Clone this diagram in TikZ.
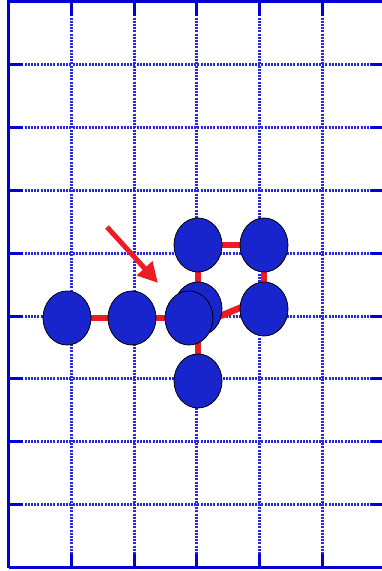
\documentclass[tikz,border=0pt]{standalone}
\usetikzlibrary{shapes.geometric,arrows.meta}
\definecolor{gridblue}{RGB}{0,0,215}
\definecolor{dotblue}{RGB}{40,40,225}
\definecolor{ballblue}{RGB}{24,36,204}
\definecolor{linkred}{RGB}{237,28,36}
\begin{document}
\begin{tikzpicture}[x=1pt,y=-1pt,
  gridline/.style={dotblue,line width=3pt,dash pattern=on 2pt off 1.2pt},
  border/.style={gridblue,line width=3pt},
  ball/.style={ellipse,draw=black,line width=0.8pt,fill=ballblue,minimum width=48pt,minimum height=54pt,inner sep=0pt},
  link/.style={linkred,line width=6.5pt},
  pointer/.style={linkred,line width=5pt,-{Triangle[length=20pt,width=20pt]}}]
\useasboundingbox (0,0) rectangle (382,571);
\fill[white] (0,0) rectangle (382,571);
% grid
\foreach \x in {71.3,134.1,196.9,259.7,322.5}
  \draw[gridline] (\x,1.5) -- (\x,567.6);
\foreach \y in {64.4,127.3,190.2,253.1,316,378.9,441.8,504.7}
  \draw[gridline] (8.5,\y) -- (385.3,\y);
% box
\draw[border] (8.5,567.6) -- (8.5,1.5) -- (386,1.5);
\draw[border] (8.5,567.6) -- (386,567.6);
% ticks
\foreach \x in {71.3,134.1,196.9,259.7,322.5}{
  \draw[border] (\x,1.5) -- (\x,15.5);
  \draw[border] (\x,567.6) -- (\x,553.6);}
\foreach \y in {64.4,127.3,190.2,253.1,316,378.9,441.8,504.7}{
  \draw[border] (8.5,\y) -- (22.5,\y);
  \draw[border] (385.3,\y) -- (371.3,\y);}
% nodes
\coordinate (pA) at (67,318);
\coordinate (pB) at (132,318);
\coordinate (pC) at (189,318);
\coordinate (pD) at (198,309);
\coordinate (pE) at (198,245);
\coordinate (pF) at (264,245);
\coordinate (pG) at (264,309);
\coordinate (pH) at (198,381);
% links
\draw[link] (pA) -- (pB);
\draw[link] (pB) -- (pC);
\draw[link] (pE) -- (pF);
\draw[link] (pE) -- (pD);
\draw[link] (pF) -- (pG);
\draw[link] (pD) -- (pH);
\draw[link] ([shift={(12,6)}]pC) -- ([shift={(-10,-7)}]pG);
% balls
\node[ball] (D) at (pD) {};
\node[ball] (A) at (pA) {};
\node[ball] (B) at (pB) {};
\node[ball] (C) at (pC) {};
\node[ball] (E) at (pE) {};
\node[ball] (F) at (pF) {};
\node[ball] (G) at (pG) {};
\node[ball] (H) at (pH) {};
% arrow
\coordinate (tail) at (107,227);
\coordinate (tip) at (158,283);
\draw[pointer] (tail) -- (tip);
\end{tikzpicture}
\end{document}
